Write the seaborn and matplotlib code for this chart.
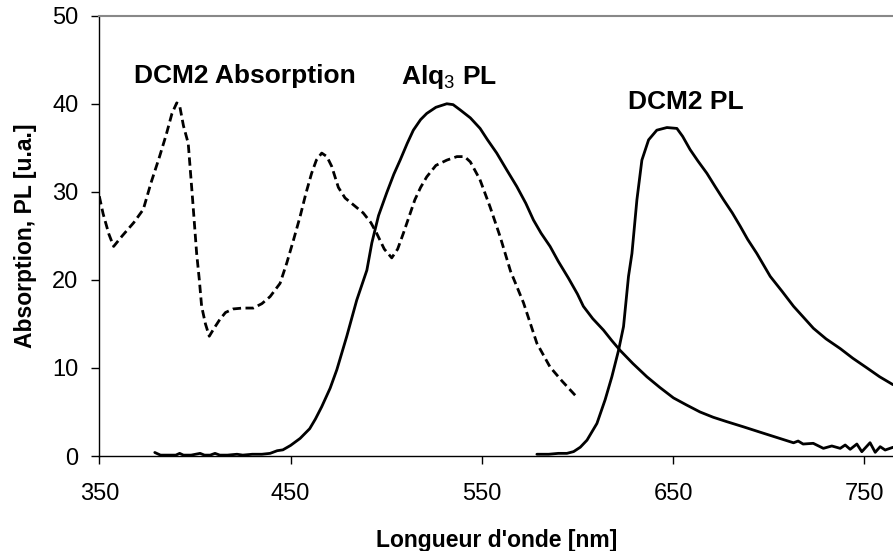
import matplotlib
matplotlib.use("Agg")
import matplotlib.pyplot as plt
import seaborn as sns
import pandas as pd

# ---- data ----
abs_x = [350, 352, 355, 357.5, 362, 368, 373, 377, 381.5, 385, 388, 390.5, 392, 394,
         396.5, 398.8, 400.9, 402.3, 403.5, 405.5, 407.5, 410, 413, 416, 420, 425,
         430.5, 435, 439.3, 444.5, 448, 451.5, 455, 458, 461, 463.5, 466.3, 469, 471.5,
         475, 478.5, 483, 488, 492, 495, 499, 502.9, 506, 509, 512, 515, 518, 521.2,
         526, 531.7, 537, 541, 544, 549, 554.3, 559.6, 565, 571.8, 578.8, 585.7, 592, 598.8]
abs_y = [29.5, 27.5, 25.2, 23.8, 25.0, 26.5, 28.0, 31.0, 34.0, 36.5, 38.9, 40.1, 39.8, 37.5,
         35.5, 29.1, 23.0, 20.0, 17.0, 15.0, 13.6, 14.5, 15.5, 16.3, 16.7, 16.8,
         16.8, 17.3, 18.1, 19.6, 21.9, 24.5, 27.2, 29.8, 32.1, 33.6, 34.4, 34.0, 32.9,
         30.5, 29.3, 28.5, 27.6, 26.5, 25.3, 23.5, 22.5, 23.5, 25.3, 27.2, 29.1, 30.5, 31.7,
         33.0, 33.6, 34.0, 34.0, 33.4, 31.4, 28.3, 24.9, 21.0, 17.4, 12.8, 10.1, 8.5, 6.9]

alq_x = [379, 382, 386, 390, 392, 394, 398, 402.7, 405, 408, 410.5, 413, 417, 422, 425,
         430, 435, 439.3, 443, 446, 450, 455, 460, 463, 466.3, 470.7, 474.2, 479.4,
         484.6, 489.9, 492.5, 496, 500.3, 504, 507.3, 511, 514.2, 518, 521.2, 526,
         531.7, 535, 538.7, 544, 549.1, 553, 557.8, 563, 568.3, 573, 577, 581, 585.7,
         590, 595.3, 600, 603.1, 608, 613.6, 618, 622.3, 629, 636.3, 643, 650.2, 657,
         664.1, 671, 678.1, 687, 695.6, 704.3, 713, 715.4, 718, 723.3, 728.6, 733,
         737.4, 740, 742.6, 746.1, 748.7, 753, 755.7, 758.3, 760.9, 765]
alq_y = [0.4, 0.1, 0.1, 0.1, 0.3, 0.1, 0.1, 0.3, 0.1, 0.1, 0.3, 0.1, 0.1, 0.2, 0.1,
         0.2, 0.2, 0.3, 0.6, 0.7, 1.2, 2.0, 3.1, 4.2, 5.6, 7.7, 9.8, 13.6,
         17.7, 21.1, 24.2, 27.3, 29.9, 32.0, 33.6, 35.5, 37.0, 38.2, 38.9, 39.6,
         40.0, 39.9, 39.3, 38.4, 37.2, 35.9, 34.4, 32.5, 30.6, 28.7, 26.8, 25.3, 23.8,
         22.1, 20.2, 18.4, 17.0, 15.6, 14.3, 13.1, 12.0, 10.5, 9.0, 7.8, 6.6, 5.8,
         5.0, 4.4, 3.9, 3.3, 2.7, 2.1, 1.5, 1.7, 1.36, 1.44, 0.87, 1.14,
         0.87, 1.25, 0.76, 1.36, 0.49, 1.51, 0.42, 1.06, 0.68, 0.99]

dcm_x = [578.8, 585, 590, 594.5, 598, 601.5, 605, 610.2, 614.5, 618, 621.5, 624.1,
         626.7, 628.5, 631.1, 633.7, 637.2, 641.5, 646.8, 652, 655, 658.9, 663, 667.7,
         672, 676.4, 681, 685.1, 689, 693.8, 700.8, 707, 713, 718, 723.4, 730,
         737.4, 744, 751.4, 758, 765]
dcm_y = [0.2, 0.2, 0.3, 0.3, 0.5, 1.0, 1.8, 3.7, 6.4, 9.0, 12.0, 14.7,
         20.4, 23.0, 29.1, 33.6, 35.9, 37.0, 37.3, 37.2, 36.3, 34.8, 33.5, 32.1,
         30.6, 29.1, 27.6, 26.1, 24.6, 23.0, 20.4, 18.7, 17.0, 15.8, 14.5, 13.3,
         12.2, 11.1, 10.0, 9.0, 8.1]

x_ticks = [350, 450, 550, 650, 750]
y_ticks = [0, 10, 20, 30, 40, 50]
x_label = "Longueur d'onde [nm]"
y_label = "Absorption, PL [u.a.]"
labels = ["DCM2 Absorption", r"Alq$_{\mathrm{3}}$ PL", "DCM2 PL"]
label_pos = [(426.2, 42.4), (532.6, 42.2), (656.8, 39.4)]

# ---- style ----
sns.set_theme(style="white")
plt.rcParams["font.family"] = ["Liberation Sans", "DejaVu Sans"]
plt.rcParams["mathtext.fontset"] = "custom"
plt.rcParams["mathtext.rm"] = "Liberation Sans"
plt.rcParams["mathtext.bf"] = "Liberation Sans:bold"
for k in ["text.color", "axes.labelcolor", "xtick.color", "ytick.color"]:
    plt.rcParams[k] = "black"

fig = plt.figure(figsize=(8.93, 5.51), dpi=100)
ax = fig.add_axes([0.1112, 0.1724, 0.8888, 0.7991])

lw = 2.0
sns.lineplot(x=abs_x, y=abs_y, ax=ax, color="black", linewidth=lw,
             estimator=None, sort=False)
ax.lines[-1].set_linestyle((0, (3, 1.6)))
sns.lineplot(x=alq_x, y=alq_y, ax=ax, color="black", linewidth=lw,
             estimator=None, sort=False)
sns.lineplot(x=dcm_x, y=dcm_y, ax=ax, color="black", linewidth=lw,
             estimator=None, sort=False)

ax.set_xlim(350, 765)
ax.set_ylim(0, 50)
ax.set_xticks(x_ticks)
ax.set_yticks(y_ticks)
ax.tick_params(axis="both", which="major", direction="out", length=6, width=1,
               color="black", labelcolor="black", labelsize=17, bottom=True, left=True)
ax.tick_params(axis="x", pad=13.5)
ax.tick_params(axis="y", pad=9)
ax.set_xlabel(x_label, fontsize=16.5, fontweight="bold", labelpad=17)
ax.set_ylabel(y_label, fontsize=16.5, fontweight="bold", labelpad=11)

for sp in ["left", "bottom"]:
    ax.spines[sp].set_color("black")
    ax.spines[sp].set_linewidth(1.0)
ax.spines["top"].set_color("#888888")
ax.spines["top"].set_linewidth(1.5)
ax.spines["right"].set_visible(False)

for txt, (tx, ty) in zip(labels, label_pos):
    ax.text(tx, ty, txt, fontsize=19, fontweight="bold", ha="center",
            va="baseline", color="black")

fig.savefig("out.png", dpi=100)
